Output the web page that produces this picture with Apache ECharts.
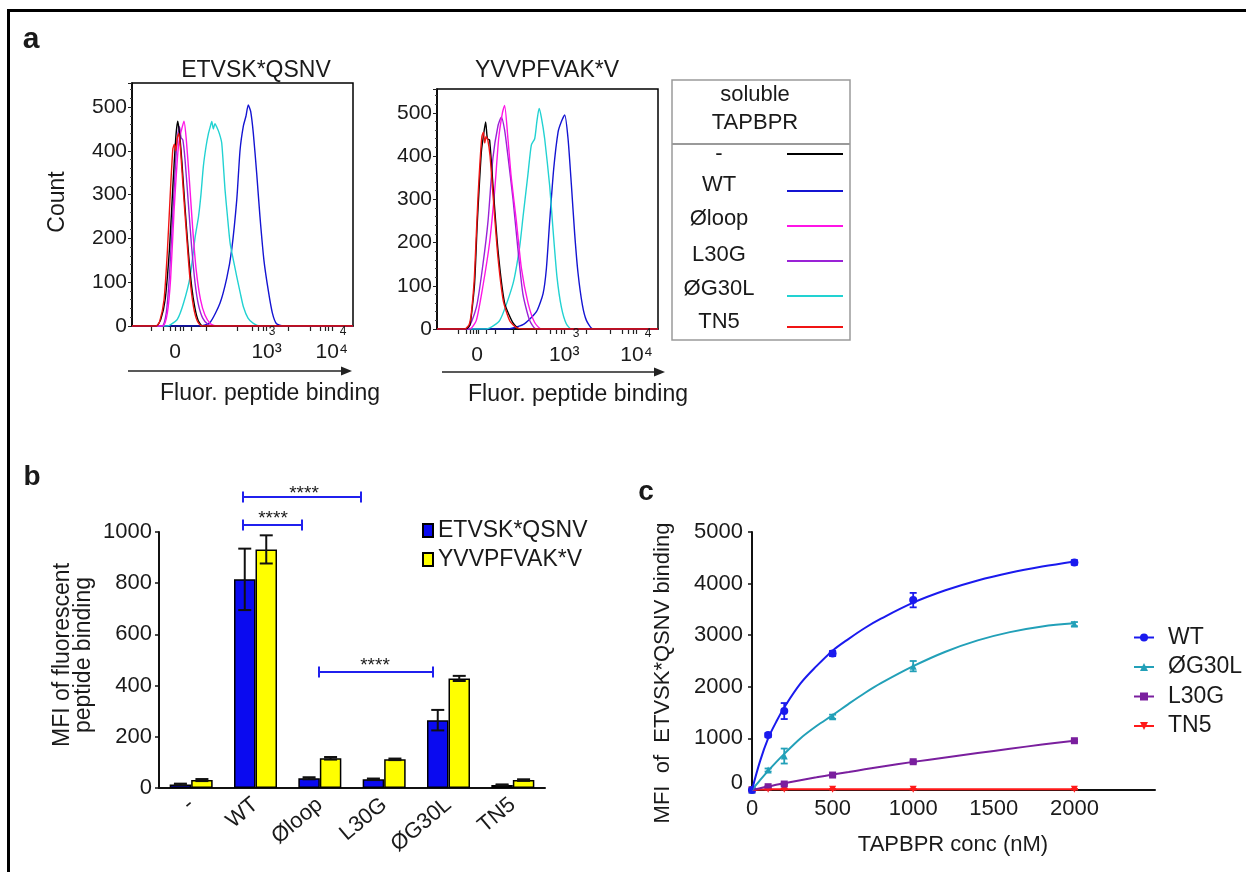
<!DOCTYPE html>
<html>
<head>
<meta charset="utf-8">
<title>TAPBPR peptide binding</title>
<script src="https://cdn.jsdelivr.net/npm/echarts@6.0.0/dist/echarts.min.js"></script>
<style>
  html, body { margin: 0; padding: 0; background: #fff; }
  #chart { width: 1246px; height: 872px; }
</style>
</head>
<body>
<div id="chart"></div>
<script>
// ---------- panel a : flow histograms (x = channel of the biexponential scale, 0-1000) ----------
var histNames = ['-', 'WT', 'Øloop', 'L30G', 'ØG30L', 'TN5']
var histColors = ['#000000', '#1414d2', '#ff14e6', '#9a22d6', '#22d2d2', '#f01414']
var histTitles = ['ETVSK*QSNV', 'YVVPFVAK*V']
var histTickLabels = ['0', '10³', '10⁴']
var leftLabelPos = [195, 609, 904]
var rightLabelPos = [181, 576, 903]
var leftTicks = [89, 142, 172, 195, 217, 232, 270, 338, 474, 542, 572, 595, 609, 707, 805, 851, 873, 888, 904]
var rightTicks = [96, 134, 149, 164, 176, 187, 225, 262, 345, 451, 511, 541, 564, 576, 677, 783, 836, 866, 888, 903]

// ETVSK*QSNV
var leftNone = [[0,0],[110,0],[130,15],[150,60],[170,180],[185,320],[198,430],[207,468],[215,440],[225,380],[240,270],[255,170],[270,90],[285,40],[300,12],[320,0],[1000,0]]
var leftWT = [[0,0],[308,0],[353,8],[398,52],[429,110],[451,174],[474,288],[489,402],[504,457],[516,480],[526,505],[537,490],[549,440],[564,350],[579,250],[597,150],[617,80],[635,30],[654,5],[684,0],[1000,0]]
var leftLoop = [[0,0],[140,0],[160,30],[175,110],[190,260],[205,380],[215,430],[225,450],[235,468],[245,430],[260,330],[275,220],[290,130],[310,60],[330,25],[355,5],[380,0],[1000,0]]
var leftL30G = [[0,0],[135,0],[155,30],[170,120],[185,260],[198,380],[208,440],[215,455],[222,430],[230,425],[240,380],[255,280],[270,180],[285,100],[300,50],[320,18],[345,3],[370,0],[1000,0]]
var leftG30L = [[0,0],[160,0],[175,3],[205,15],[233,52],[263,113],[286,204],[301,250],[312,300],[323,365],[335,410],[346,440],[354,455],[361,467],[368,450],[375,462],[383,455],[395,440],[406,418],[421,311],[432,250],[444,189],[459,150],[474,113],[490,75],[504,44],[525,18],[549,6],[580,0],[1000,0]]
var leftTN5 = [[0,0],[110,0],[125,10],[145,60],[160,170],[175,320],[185,405],[192,415],[198,400],[205,430],[212,440],[220,400],[232,310],[248,200],[262,110],[278,45],[295,12],[315,0],[1000,0]]

// YVVPFVAK*V
var rightNone = [[0,0],[130,0],[148,8],[155,29],[170,105],[182,243],[190,319],[201,411],[211,450],[220,479],[228,440],[238,437],[253,334],[276,182],[306,60],[344,14],[374,0],[1000,0]]
var rightWT = [[0,0],[314,0],[389,10],[450,40],[480,82],[495,140],[510,250],[528,370],[548,456],[563,480],[578,495],[593,440],[608,334],[623,220],[638,130],[658,55],[676,20],[706,0],[1000,0]]
var rightLoop = [[0,0],[148,0],[178,20],[208,100],[238,200],[261,320],[279,440],[296,500],[306,517],[321,440],[336,350],[359,250],[382,140],[412,60],[442,15],[472,0],[1000,0]]
var rightL30G = [[0,0],[133,0],[178,50],[208,150],[231,250],[253,395],[276,470],[291,490],[306,460],[321,400],[344,300],[367,180],[389,80],[419,20],[449,0],[1000,0]]
var rightG30L = [[0,0],[223,0],[284,20],[344,105],[374,190],[389,258],[412,360],[427,426],[442,440],[452,480],[462,510],[472,490],[487,441],[510,330],[525,230],[543,120],[563,50],[585,12],[608,0],[1000,0]]
var rightTN5 = [[0,0],[125,0],[145,10],[155,35],[168,110],[178,220],[186,310],[195,390],[203,445],[210,455],[216,430],[222,445],[230,437],[240,400],[255,300],[275,170],[300,65],[330,18],[360,3],[390,0],[1000,0]]

// ---------- panel b : MFI bars ----------
var barCats = ['-', 'WT', 'Øloop', 'L30G', 'ØG30L', 'TN5']
var barNames = ['ETVSK*QSNV', 'YVVPFVAK*V']
var etvskMean = [14, 815, 38, 34, 265, 12]
var etvskErr = [3, 120, 4, 3, 40, 2]
var yvvMean = [31, 932, 116, 112, 428, 31]
var yvvErr = [4, 55, 5, 3, 10, 3]

// ---------- panel c : titration ----------
var concX = [0, 100, 200, 500, 1000, 2000]
var wtMean = [0, 1064, 1530, 2645, 3680, 4410]
var wtErr = [0, 40, 155, 50, 140, 45]
var g30lMean = [0, 387, 658, 1420, 2400, 3215]
var g30lErr = [0, 30, 145, 40, 100, 40]
var l30gMean = [0, 64, 116, 290, 548, 955]
var l30gErr = [0, 12, 15, 18, 20, 22]
var tn5Mean = [0, 15, 15, 15, 15, 15]
var tn5Err = [0, 6, 6, 6, 6, 6]
// fitted curves
var fitX = [0, 50, 100, 150, 200, 300, 400, 500, 600, 700, 800, 1000, 1200, 1400, 1600, 1800, 2000]
var wtFit = [0, 560, 1000, 1320, 1600, 2060, 2400, 2700, 2930, 3140, 3320, 3630, 3870, 4060, 4210, 4330, 4430]
var g30lFit = [0, 190, 370, 540, 700, 1000, 1240, 1450, 1670, 1880, 2070, 2400, 2680, 2900, 3060, 3170, 3230]
var l30gFit = [0, 35, 68, 100, 130, 190, 245, 300, 350, 400, 450, 545, 630, 715, 800, 880, 955]
var tn5Fit = [0, 8, 12, 14, 15, 15, 15, 15, 15, 15, 15, 15, 15, 15, 15, 15, 15]
var titNames = ['WT', 'ØG30L', 'L30G', 'TN5']
var titColors = ['#1a1aee', '#22a0b8', '#7a1f9e', '#ff1a1a']
var titSymbols = ['circle', 'triangle', 'rect', 'triangle']
var titRotate = [0, 0, 0, 180]

var FONT = '"Liberation Sans", Arial, sans-serif'
var INK = '#1a1a1a'
var BAR_W = 21.5

function zip (xs, ys) {
  return xs.map(function (x, i) { return [x, ys[i]] })
}
function plain (v) { return String(v) }

function txt (text, x, y, size, opt) {
  opt = opt || {}
  return {
    type: 'text', x: x, y: y, rotation: opt.rot || 0, z: 50,
    style: {
      text: text, fill: opt.color || INK,
      font: (opt.bold ? 'bold ' : '') + size + 'px ' + FONT,
      textAlign: opt.align || 'center', textVerticalAlign: 'middle',
      align: opt.align || 'center', verticalAlign: 'middle',
      lineHeight: opt.lh || size
    }
  }
}

function seg (x1, y1, x2, y2, color, w) {
  return { type: 'line', z: 50, shape: { x1: x1, y1: y1, x2: x2, y2: y2 }, style: { stroke: color, lineWidth: w } }
}

// ---- graphic annotations ----
var g = []
g.push({ type: 'rect', z: 60, shape: { x: 8.5, y: 10.5, width: 1300, height: 950 }, style: { fill: 'none', stroke: '#000', lineWidth: 3 } })
g.push(txt('a', 31, 40, 30, { bold: true }))
g.push(txt('b', 32, 477, 28, { bold: true }))
g.push(txt('c', 646, 492, 28, { bold: true }))

// panel a texts
g.push(txt(histTitles[0], 256, 71, 23))
g.push(txt(histTitles[1], 547, 71, 23))
g.push(txt('Count', 58, 202, 23, { rot: Math.PI / 2 }))
var arrows = [[128, 352, 371, 270, 394], [442, 665, 372, 578, 395]]
arrows.forEach(function (a) {
  g.push(seg(a[0], a[2], a[1] - 8, a[2], '#222', 1.5))
  g.push({ type: 'polygon', z: 50, shape: { points: [[a[1], a[2]], [a[1] - 11, a[2] - 4.5], [a[1] - 11, a[2] + 4.5]] }, style: { fill: '#222' } })
  g.push(txt('Fluor. peptide binding', a[3], a[4], 23))
})
// stray superscript digits under the axes
g.push(txt('3', 272, 332, 12))
g.push(txt('4', 343, 332, 12))
g.push(txt('3', 576, 334, 12))
g.push(txt('4', 648, 334, 12))

// panel a legend box
g.push({ type: 'rect', z: 50, shape: { x: 672, y: 80, width: 178, height: 260 }, style: { fill: 'none', stroke: '#9a9a9a', lineWidth: 1.5 } })
g.push(seg(672, 144, 850, 144, '#9a9a9a', 2))
g.push(txt('soluble\nTAPBPR', 755, 109, 22, { lh: 28 }))
var legY = [154, 185, 219, 255, 289, 322]
var legLineY = [154, 191, 226, 261, 296, 327]
histNames.forEach(function (n, i) {
  g.push(txt(n, 719, legY[i], 22))
  g.push(seg(787, legLineY[i], 843, legLineY[i], histColors[i], 2))
})

// panel b texts and significance brackets
g.push(txt('MFI of fluorescent\npeptide binding', 73, 655, 23, { rot: Math.PI / 2, lh: 21 }))
var brackets = [[243, 361, 497, 304, 494], [243, 302, 525, 273, 519], [319, 433, 672, 375, 666]]
brackets.forEach(function (b) {
  g.push(seg(b[0], b[2], b[1], b[2], '#2020ee', 2))
  g.push(seg(b[0], b[2] - 5.5, b[0], b[2] + 5.5, '#2020ee', 2))
  g.push(seg(b[1], b[2] - 5.5, b[1], b[2] + 5.5, '#2020ee', 2))
  g.push(txt('****', b[3], b[4], 19))
})

// panel c texts
g.push(txt('MFI  of  ETVSK*QSNV binding', 663, 673, 22, { rot: Math.PI / 2 }))
g.push(txt('TAPBPR conc (nM)', 953, 845, 22))

// ---- axes ----
function histX (grid, labelPos, ticks) {
  return {
    type: 'value', gridIndex: grid, min: 0, max: 1000,
    splitLine: { show: false },
    axisLine: { show: true, lineStyle: { color: '#000', width: 1.5 } },
    axisTick: { show: true, customValues: ticks, length: 5, lineStyle: { color: '#222', width: 1.2 } },
    axisLabel: {
      customValues: labelPos, margin: 16, fontSize: 21, fontFamily: FONT, color: INK,
      formatter: function (v) { return histTickLabels[labelPos.indexOf(v)] }
    }
  }
}
function histY (grid) {
  return {
    type: 'value', gridIndex: grid, min: 0, max: 555, interval: 100,
    splitLine: { show: false },
    axisLine: { show: true, lineStyle: { color: '#000', width: 1.5 } },
    axisTick: { show: true, length: 4, lineStyle: { color: '#222' } },
    minorTick: { show: true, splitNumber: 5, length: 2, lineStyle: { color: '#444' } },
    axisLabel: { showMaxLabel: false, margin: 5, fontSize: 21, fontFamily: FONT, color: INK, formatter: plain }
  }
}

function histLine (name, data, color, grid) {
  return {
    name: name, type: 'line', xAxisIndex: grid, yAxisIndex: grid, data: data,
    showSymbol: false, smooth: 0.2, silent: true,
    lineStyle: { color: color, width: 1.4 }
  }
}

var series = []
var leftSets = [leftWT, leftG30L, leftL30G, leftLoop, leftNone, leftTN5]
var rightSets = [rightWT, rightG30L, rightL30G, rightLoop, rightNone, rightTN5]
var drawOrder = [1, 4, 3, 2, 0, 5]
drawOrder.forEach(function (ci, k) {
  series.push(histLine('L ' + histNames[ci], leftSets[k], histColors[ci], 0))
  series.push(histLine('R ' + histNames[ci], rightSets[k], histColors[ci], 1))
})

// bars
series.push({
  name: barNames[0], type: 'bar', xAxisIndex: 2, yAxisIndex: 2, data: etvskMean,
  barWidth: BAR_W, barGap: '0%',
  itemStyle: { color: '#0a0af0', borderColor: '#000', borderWidth: 1.5 }
})
series.push({
  name: barNames[1], type: 'bar', xAxisIndex: 2, yAxisIndex: 2, data: yvvMean,
  barWidth: BAR_W, barGap: '0%',
  itemStyle: { color: '#ffff00', borderColor: '#000', borderWidth: 1.5 }
})
var barErrData = []
etvskMean.forEach(function (m, i) { barErrData.push([i, m - etvskErr[i], m + etvskErr[i], -1]) })
yvvMean.forEach(function (m, i) { barErrData.push([i, m - yvvErr[i], m + yvvErr[i], 1]) })
series.push({
  type: 'custom', xAxisIndex: 2, yAxisIndex: 2, data: barErrData, silent: true, z: 5,
  renderItem: function (params, api) {
    var lo = api.coord([api.value(0), api.value(1)])
    var hi = api.coord([api.value(0), api.value(2)])
    var x = lo[0] + api.value(3) * BAR_W / 2
    var st = { stroke: '#111', lineWidth: 2 }
    return {
      type: 'group', children: [
        { type: 'line', shape: { x1: x, y1: lo[1], x2: x, y2: hi[1] }, style: st },
        { type: 'line', shape: { x1: x - 6.5, y1: lo[1], x2: x + 6.5, y2: lo[1] }, style: st },
        { type: 'line', shape: { x1: x - 6.5, y1: hi[1], x2: x + 6.5, y2: hi[1] }, style: st }
      ]
    }
  }
})

// titration
var titMeans = [wtMean, g30lMean, l30gMean, tn5Mean]
var titErrs = [wtErr, g30lErr, l30gErr, tn5Err]
var titFits = [wtFit, g30lFit, l30gFit, tn5Fit]
var drawC = [3, 2, 1, 0]
drawC.forEach(function (i) {
  series.push({
    name: titNames[i], type: 'line', xAxisIndex: 3, yAxisIndex: 3, data: zip(fitX, titFits[i]),
    smooth: 0.35, showSymbol: false, symbol: titSymbols[i], symbolRotate: titRotate[i],
    lineStyle: { color: titColors[i], width: 2 }, itemStyle: { color: titColors[i] }, silent: true
  })
  series.push({
    name: titNames[i] + ' err', type: 'custom', xAxisIndex: 3, yAxisIndex: 3, silent: true,
    data: concX.map(function (x, k) { return [x, titMeans[i][k] - titErrs[i][k], titMeans[i][k] + titErrs[i][k]] }),
    renderItem: function (params, api) {
      var lo = api.coord([api.value(0), api.value(1)])
      var hi = api.coord([api.value(0), api.value(2)])
      var st = { stroke: titColors[i], lineWidth: 1.8 }
      return {
        type: 'group', children: [
          { type: 'line', shape: { x1: lo[0], y1: lo[1], x2: hi[0], y2: hi[1] }, style: st },
          { type: 'line', shape: { x1: lo[0] - 3.5, y1: lo[1], x2: lo[0] + 3.5, y2: lo[1] }, style: st },
          { type: 'line', shape: { x1: hi[0] - 3.5, y1: hi[1], x2: hi[0] + 3.5, y2: hi[1] }, style: st }
        ]
      }
    }
  })
  series.push({
    name: titNames[i] + ' points', type: 'scatter', xAxisIndex: 3, yAxisIndex: 3,
    data: zip(concX, titMeans[i]), symbol: titSymbols[i], symbolRotate: titRotate[i],
    symbolSize: i === 0 ? 8 : 7, itemStyle: { color: titColors[i], opacity: 1 }, silent: true
  })
})

var option = {
  animation: false,
  backgroundColor: '#fff',
  textStyle: { fontFamily: FONT },
  grid: [
    { left: 132, top: 83, width: 221, height: 243, show: true, borderColor: '#000', borderWidth: 1.5 },
    { left: 437, top: 89, width: 221, height: 240, show: true, borderColor: '#000', borderWidth: 1.5 },
    { left: 159, top: 532, width: 386, height: 256 },
    { left: 752, top: 532, width: 403, height: 258 }
  ],
  xAxis: [
    histX(0, leftLabelPos, leftTicks),
    histX(1, rightLabelPos, rightTicks),
    {
      type: 'category', gridIndex: 2, data: barCats,
      axisLine: { lineStyle: { color: '#111', width: 2 } },
      axisTick: { alignWithLabel: true, length: 4, lineStyle: { color: '#111', width: 1.5 } },
      axisLabel: { rotate: 40, margin: 14, fontSize: 22, fontFamily: FONT, color: INK, interval: 0 }
    },
    {
      type: 'value', gridIndex: 3, min: 0, max: 2500, interval: 500,
      splitLine: { show: false },
      axisLine: { lineStyle: { color: '#111', width: 2 } },
      axisTick: { show: false },
      axisLabel: { showMaxLabel: false, margin: 8, fontSize: 22, fontFamily: FONT, color: INK, formatter: plain }
    }
  ],
  yAxis: [
    histY(0),
    histY(1),
    {
      type: 'value', gridIndex: 2, min: 0, max: 1000, interval: 200,
      splitLine: { show: false },
      axisLine: { show: true, lineStyle: { color: '#111', width: 2 } },
      axisTick: { show: true, length: 4, lineStyle: { color: '#111', width: 1.5 } },
      axisLabel: { margin: 7, fontSize: 22, fontFamily: FONT, color: INK, formatter: plain }
    },
    {
      type: 'value', gridIndex: 3, min: 0, max: 5000, interval: 1000,
      splitLine: { show: false },
      axisLine: { show: true, lineStyle: { color: '#111', width: 2 } },
      axisTick: { show: true, length: 4, lineStyle: { color: '#111', width: 1.5 } },
      axisLabel: {
        margin: 9, fontSize: 22, fontFamily: FONT, color: INK,
        formatter: function (v) { return v === 0 ? '{z|0}' : String(v) },
        rich: { z: { fontSize: 22, fontFamily: FONT, color: INK, padding: [0, 0, 14, 0] } }
      }
    }
  ],
  legend: [
    {
      data: barNames, left: 422, top: 519, orient: 'vertical', padding: 0,
      itemWidth: 10, itemHeight: 13, itemGap: 6, icon: 'rect', selectedMode: false,
      textStyle: { fontSize: 23, lineHeight: 22, color: INK, fontFamily: FONT }
    },
    {
      data: titNames, left: 1133, top: 626, orient: 'vertical', padding: 0,
      itemWidth: 20, itemHeight: 10, itemGap: 6.5, selectedMode: false,
      textStyle: { fontSize: 23, lineHeight: 22, color: INK, fontFamily: FONT, padding: [0, 0, 0, 9] }
    }
  ],
  graphic: { elements: g },
  series: series
}

var chart = echarts.init(document.getElementById('chart'))
chart.setOption(option)
</script>
</body>
</html>
